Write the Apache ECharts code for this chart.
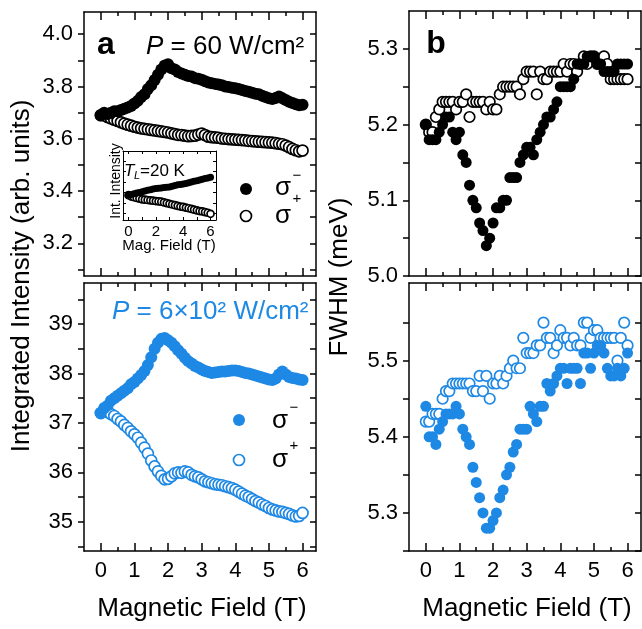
<!DOCTYPE html>
<html><head><meta charset="utf-8">
<script src="https://cdn.jsdelivr.net/npm/echarts@6/dist/echarts.min.js"></script>
<style>html,body{margin:0;padding:0;background:#fff}#c{width:642px;height:629px}</style>
</head><body><div id="c"></div>
<script>
// ---------------- data ----------------
const fieldT = [0,0.1,0.2,0.3,0.4,0.5,0.6,0.7,0.8,0.9,1,1.1,1.2,1.3,1.4,1.5,1.6,1.7,1.8,1.9,2,2.1,2.2,2.3,2.4,2.5,2.6,2.7,2.8,2.9,3,3.1,3.2,3.3,3.4,3.5,3.6,3.7,3.8,3.9,4,4.1,4.2,4.3,4.4,4.5,4.6,4.7,4.8,4.9,5,5.1,5.2,5.3,5.4,5.5,5.6,5.7,5.8,5.9,6];

// P = 60 W/cm^2, integrated intensity
const intLowMinus = [3.69,3.70,3.695,3.70,3.705,3.705,3.71,3.715,3.72,3.725,3.735,3.745,3.76,3.77,3.79,3.805,3.825,3.845,3.865,3.88,3.885,3.87,3.865,3.855,3.85,3.845,3.84,3.838,3.832,3.83,3.826,3.82,3.815,3.812,3.81,3.808,3.805,3.80,3.798,3.795,3.793,3.79,3.787,3.783,3.78,3.776,3.772,3.77,3.765,3.76,3.755,3.752,3.756,3.762,3.755,3.748,3.742,3.737,3.732,3.728,3.73];
const intLowPlus = [3.69,3.69,3.683,3.678,3.673,3.668,3.663,3.658,3.654,3.65,3.646,3.643,3.64,3.638,3.636,3.634,3.632,3.63,3.628,3.626,3.624,3.621,3.618,3.615,3.614,3.612,3.61,3.611,3.612,3.616,3.62,3.614,3.608,3.606,3.605,3.604,3.601,3.60,3.599,3.598,3.597,3.596,3.595,3.594,3.592,3.591,3.59,3.589,3.588,3.587,3.586,3.585,3.583,3.581,3.579,3.574,3.568,3.561,3.556,3.552,3.555];

// P = 6x10^2 W/cm^2, integrated intensity
const intHighMinus = [37.2,37.3,37.35,37.45,37.5,37.55,37.6,37.65,37.7,37.78,37.83,37.9,37.97,38.05,38.17,38.33,38.5,38.62,38.7,38.72,38.67,38.62,38.55,38.47,38.4,38.32,38.25,38.2,38.15,38.12,38.08,38.05,38.03,38.01,38.02,38.03,38.04,38.04,38.05,38.06,38.06,38.05,38.03,38.01,38.0,37.98,37.96,37.94,37.92,37.9,37.88,37.87,37.9,37.98,38.04,37.98,37.93,37.91,37.9,37.88,37.87];
const intHighPlus = [37.2,37.25,37.22,37.18,37.14,37.08,37.03,36.96,36.9,36.83,36.77,36.7,36.6,36.5,36.38,36.24,36.12,36.02,35.93,35.86,35.87,35.92,35.98,36.0,35.99,36.02,36.0,35.95,35.92,35.9,35.86,35.82,35.8,35.78,35.76,35.75,35.74,35.72,35.7,35.68,35.65,35.61,35.57,35.53,35.5,35.46,35.42,35.39,35.35,35.32,35.28,35.25,35.23,35.21,35.2,35.18,35.16,35.13,35.11,35.12,35.18];

// FWHM (meV), low power
const fwhmLowMinus = [5.20,5.18,5.18,5.18,5.19,5.20,5.21,5.21,5.19,5.18,5.19,5.16,5.15,5.12,5.10,5.09,5.07,5.06,5.04,5.05,5.07,5.09,5.09,5.10,5.10,5.13,5.13,5.13,5.15,5.16,5.17,5.17,5.16,5.18,5.19,5.20,5.21,5.21,5.22,5.23,5.25,5.25,5.25,5.25,5.26,5.28,5.28,5.28,5.29,5.29,5.29,5.28,5.28,5.27,5.27,5.27,5.27,5.28,5.28,5.28,5.28];
const fwhmLowPlus = [5.20,5.19,5.19,5.21,5.22,5.23,5.23,5.23,5.23,5.22,5.23,5.23,5.24,5.21,5.23,5.23,5.23,5.23,5.22,5.23,5.22,5.22,5.24,5.25,5.25,5.25,5.25,5.25,5.24,5.26,5.27,5.27,5.27,5.24,5.27,5.26,5.26,5.27,5.27,5.27,5.27,5.28,5.27,5.28,5.28,5.27,5.28,5.29,5.28,5.29,5.29,5.28,5.28,5.29,5.28,5.26,5.26,5.26,5.26,5.26,5.26];

// FWHM (meV), high power
const fwhmHighMinus = [5.44,5.40,5.40,5.39,5.41,5.42,5.43,5.43,5.43,5.44,5.43,5.41,5.40,5.39,5.36,5.34,5.32,5.30,5.28,5.28,5.29,5.30,5.32,5.33,5.35,5.36,5.38,5.39,5.41,5.41,5.41,5.44,5.43,5.42,5.44,5.44,5.47,5.46,5.47,5.48,5.49,5.49,5.47,5.49,5.49,5.49,5.47,5.51,5.51,5.49,5.51,5.52,5.52,5.51,5.49,5.48,5.48,5.49,5.48,5.49,5.51];
const fwhmHighPlus = [5.42,5.42,5.43,5.43,5.43,5.45,5.46,5.46,5.47,5.47,5.47,5.47,5.47,5.47,5.46,5.46,5.48,5.46,5.48,5.45,5.47,5.47,5.48,5.47,5.48,5.49,5.50,5.49,5.49,5.53,5.51,5.51,5.51,5.52,5.52,5.55,5.53,5.53,5.51,5.52,5.54,5.53,5.53,5.52,5.53,5.52,5.52,5.55,5.55,5.53,5.54,5.54,5.53,5.53,5.53,5.53,5.53,5.50,5.53,5.55,5.52];

// inset (T_L = 20 K), arbitrary units
const insetField = [0,0.2,0.4,0.6,0.8,1,1.2,1.4,1.6,1.8,2,2.2,2.4,2.6,2.8,3,3.2,3.4,3.6,3.8,4,4.2,4.4,4.6,4.8,5,5.2,5.4,5.6,5.8,6];
const insetMinus = [0.36,0.37,0.38,0.39,0.40,0.41,0.42,0.43,0.44,0.45,0.455,0.46,0.465,0.47,0.475,0.48,0.49,0.50,0.51,0.515,0.52,0.53,0.54,0.55,0.56,0.57,0.58,0.59,0.60,0.61,0.62];
const insetPlus = [0.36,0.34,0.33,0.32,0.31,0.30,0.295,0.29,0.285,0.28,0.275,0.27,0.265,0.255,0.245,0.235,0.225,0.215,0.205,0.195,0.19,0.18,0.17,0.16,0.15,0.14,0.13,0.125,0.115,0.105,0.09];

// tick values / labels
const fieldMajorTicks = [0,1,2,3,4,5,6];
const fieldMinorTicks = [0.5,1.5,2.5,3.5,4.5,5.5];
const fieldLabels = [0,1,2,3,4,5,6];
const intLowTicks = [3.1,3.2,3.3,3.4,3.5,3.6,3.7,3.8,3.9,4.0];
const intLowLabels = [3.2,3.4,3.6,3.8,4.0];
const intHighTicks = [34.5,35,35.5,36,36.5,37,37.5,38,38.5,39,39.5];
const intHighLabels = [35,36,37,38,39];
const fwhmLowTicks = [5.0,5.05,5.1,5.15,5.2,5.25,5.3];
const fwhmLowLabels = [5.0,5.1,5.2,5.3];
const fwhmHighTicks = [5.25,5.3,5.35,5.4,5.45,5.5,5.55];
const fwhmHighLabels = [5.3,5.4,5.5];
const insetXTicks = [0,1,2,3,4,5,6];
const insetXLabels = [0,2,4,6];
const insetYTicks = [0.1,0.25,0.4,0.55,0.7,0.85];

// ---------------- chart ----------------
const FONT = '"Liberation Sans", Arial, Helvetica, sans-serif';
const BLUE = '#1E88E5';
const LW = 1.5;
const pairs = (xs, ys) => xs.map((x, i) => [x, ys[i]]);

const grids = [
  {left: 84, top: 12, width: 232, height: 264},   // a top
  {left: 84, top: 283, width: 232, height: 268},  // a bottom
  {left: 409, top: 11, width: 232, height: 265},  // b top
  {left: 409, top: 283, width: 232, height: 268}, // b bottom
  {left: 123, top: 151, width: 93, height: 69, show: true, backgroundColor: '#fff', borderWidth: 0} // inset
];

function xAxesFor(g, showLabels) {
  const base = {gridIndex: g, type: 'value', min: -0.5, max: 6.4, splitLine: {show: false}};
  const line = {show: true, onZero: false, lineStyle: {color: '#000', width: LW}};
  const tk = (vals, len) => ({show: true, inside: true, length: len, customValues: vals, lineStyle: {color: '#000', width: LW}});
  return [
    Object.assign({}, base, {position: 'bottom', axisLine: line, axisTick: tk(fieldMajorTicks, 8),
      axisLabel: {show: showLabels, customValues: fieldLabels, margin: 9, fontSize: 22, color: '#000', fontFamily: FONT}}),
    Object.assign({}, base, {position: 'bottom', axisLine: {show: false, onZero: false}, axisTick: tk(fieldMinorTicks, 4), axisLabel: {show: false}}),
    Object.assign({}, base, {position: 'top', axisLine: line, axisTick: tk(fieldMajorTicks, 8), axisLabel: {show: false}}),
    Object.assign({}, base, {position: 'top', axisLine: {show: false, onZero: false}, axisTick: tk(fieldMinorTicks, 4), axisLabel: {show: false}})
  ];
}
function yAxesFor(g, min, max, ticks, labels, fmt) {
  const line = {show: true, onZero: false, lineStyle: {color: '#000', width: LW}};
  return [
    {gridIndex: g, type: 'value', min, max, position: 'left', splitLine: {show: false}, axisLine: line,
      axisTick: {show: true, inside: false, length: 6, customValues: ticks, lineStyle: {color: '#000', width: LW}},
      axisLabel: {show: true, customValues: labels, margin: 11, fontSize: 22, color: '#000', fontFamily: FONT, formatter: fmt}},
    {gridIndex: g, type: 'value', min, max, position: 'right', splitLine: {show: false}, axisLine: line,
      axisTick: {show: true, inside: true, length: 6, customValues: ticks, lineStyle: {color: '#000', width: LW}},
      axisLabel: {show: false}}
  ];
}
const f1 = v => v.toFixed(1);
const f0 = v => v.toFixed(0);

const xAxis = [].concat(
  xAxesFor(0, false), xAxesFor(1, true), xAxesFor(2, false), xAxesFor(3, true),
  [
    {gridIndex: 4, type: 'value', min: -0.4, max: 6.4, position: 'bottom', splitLine: {show: false},
      axisLine: {show: true, onZero: false, lineStyle: {color: '#000', width: 1}},
      axisTick: {show: true, inside: true, length: 3, customValues: insetXTicks, lineStyle: {color: '#000', width: 1}},
      axisLabel: {show: true, customValues: insetXLabels, margin: 4, fontSize: 15, color: '#000', fontFamily: FONT}},
    {gridIndex: 4, type: 'value', min: -0.4, max: 6.4, position: 'top', splitLine: {show: false},
      axisLine: {show: true, onZero: false, lineStyle: {color: '#000', width: 1}},
      axisTick: {show: true, inside: true, length: 3, customValues: insetXTicks, lineStyle: {color: '#000', width: 1}},
      axisLabel: {show: false}}
  ]
);
const yAxis = [].concat(
  yAxesFor(0, 3.075, 4.085, intLowTicks, intLowLabels, f1),
  yAxesFor(1, 34.41, 39.83, intHighTicks, intHighLabels, f0),
  yAxesFor(2, 5.0, 5.35, fwhmLowTicks, fwhmLowLabels, f1),
  yAxesFor(3, 5.25, 5.602, fwhmHighTicks, fwhmHighLabels, f1),
  [
    {gridIndex: 4, type: 'value', min: 0, max: 1, position: 'left', splitLine: {show: false},
      axisLine: {show: true, onZero: false, lineStyle: {color: '#000', width: 1}},
      axisTick: {show: true, inside: true, length: 3, customValues: insetYTicks, lineStyle: {color: '#000', width: 1}},
      axisLabel: {show: false}},
    {gridIndex: 4, type: 'value', min: 0, max: 1, position: 'right', splitLine: {show: false},
      axisLine: {show: true, onZero: false, lineStyle: {color: '#000', width: 1}},
      axisTick: {show: true, inside: true, length: 3, customValues: insetYTicks, lineStyle: {color: '#000', width: 1}},
      axisLabel: {show: false}}
  ]
);

function sc(name, xi, yi, data, color, open, size) {
  return {
    type: 'scatter', name, xAxisIndex: xi, yAxisIndex: yi, data, symbol: 'circle', symbolSize: size,
    silent: true, animation: false,
    itemStyle: open ? {color: '#fff', borderColor: color, borderWidth: 1.7, opacity: 1}
                    : {color: color, borderWidth: 0, opacity: 1}
  };
}
const series = [
  sc('σ+ a', 0, 0, pairs(fieldT, intLowPlus), '#000', true, 11),
  sc('σ− a', 0, 0, pairs(fieldT, intLowMinus), '#000', false, 12),
  sc('σ+ a2', 4, 2, pairs(fieldT, intHighPlus), BLUE, true, 11),
  sc('σ− a2', 4, 2, pairs(fieldT, intHighMinus), BLUE, false, 12),
  sc('σ+ b', 8, 4, pairs(fieldT, fwhmLowPlus), '#000', true, 10.5),
  sc('σ− b', 8, 4, pairs(fieldT, fwhmLowMinus), '#000', false, 11),
  sc('σ+ b2', 12, 6, pairs(fieldT, fwhmHighPlus), BLUE, true, 10.5),
  sc('σ− b2', 12, 6, pairs(fieldT, fwhmHighMinus), BLUE, false, 11),
  sc('inset +', 16, 8, pairs(insetField, insetPlus), '#000', true, 7),
  sc('inset −', 16, 8, pairs(insetField, insetMinus), '#000', false, 7)
];

function txt(text, x, y, size, o) {
  o = o || {};
  const font = (o.style || 'normal') + ' ' + (o.weight || 'normal') + ' ' + size + 'px ' + FONT;
  return {
    type: 'text', x, y, rotation: o.rot || 0, z: 10,
    style: {text, font, fill: o.color || '#000', align: o.align || 'center', verticalAlign: 'middle',
            textAlign: o.align || 'center', textVerticalAlign: 'middle', rich: o.rich}
  };
}
function dot(cx, cy, r, color, open) {
  return {type: 'circle', z: 10, shape: {cx, cy, r},
    style: open ? {fill: '#fff', stroke: color, lineWidth: 1.7} : {fill: color}};
}
const richP = (c) => ({i: {fontStyle: 'italic', fontSize: 26, fontFamily: FONT, color: c}});

const graphic = [
  txt('Integrated Intensity (arb. units)', 22, 276, 26, {rot: Math.PI / 2}),
  txt('FWHM (meV)', 340, 277, 26, {rot: Math.PI / 2}),
  txt('Magnetic Field (T)', 202, 609, 26),
  txt('Magnetic Field (T)', 527, 609, 26),
  txt('a', 106, 45, 32, {weight: 'bold'}),
  txt('b', 436, 44, 32, {weight: 'bold'}),
  txt('{i|P} = 60 W/cm²', 146, 47, 26, {align: 'left', rich: richP('#000')}),
  txt('{i|P} = 6×10² W/cm²', 112, 312, 26, {align: 'left', color: BLUE, rich: richP(BLUE)}),
  // legend (top)
  dot(246, 189, 6, '#000', false),
  dot(246, 216, 5.5, '#000', true),
  txt('σ', 283, 188, 26), txt('−', 297, 176, 15),
  txt('σ', 283, 216, 26), txt('+', 297, 199, 15),
  // legend (bottom)
  dot(239, 420, 6, BLUE, false),
  dot(239, 460, 5.5, BLUE, true),
  txt('σ', 280, 421, 26), txt('−', 294, 408, 15),
  txt('σ', 280, 460, 26), txt('+', 294, 446, 15),
  // inset texts
  txt('Int. Intensity', 116, 181, 14, {rot: Math.PI / 2}),
  txt('Mag. Field (T)', 169, 246, 15),
  txt('T', 124, 171, 17, {align: 'left', style: 'italic'}),
  txt('L', 134, 176, 11, {align: 'left', style: 'italic'}),
  txt('=20 K', 140, 171, 17, {align: 'left'})
];

const chart = echarts.init(document.getElementById('c'), null, {renderer: 'canvas'});
chart.setOption({
  animation: false,
  backgroundColor: '#fff',
  grid: grids,
  xAxis, yAxis, series, graphic
});
</script>
</body></html>
